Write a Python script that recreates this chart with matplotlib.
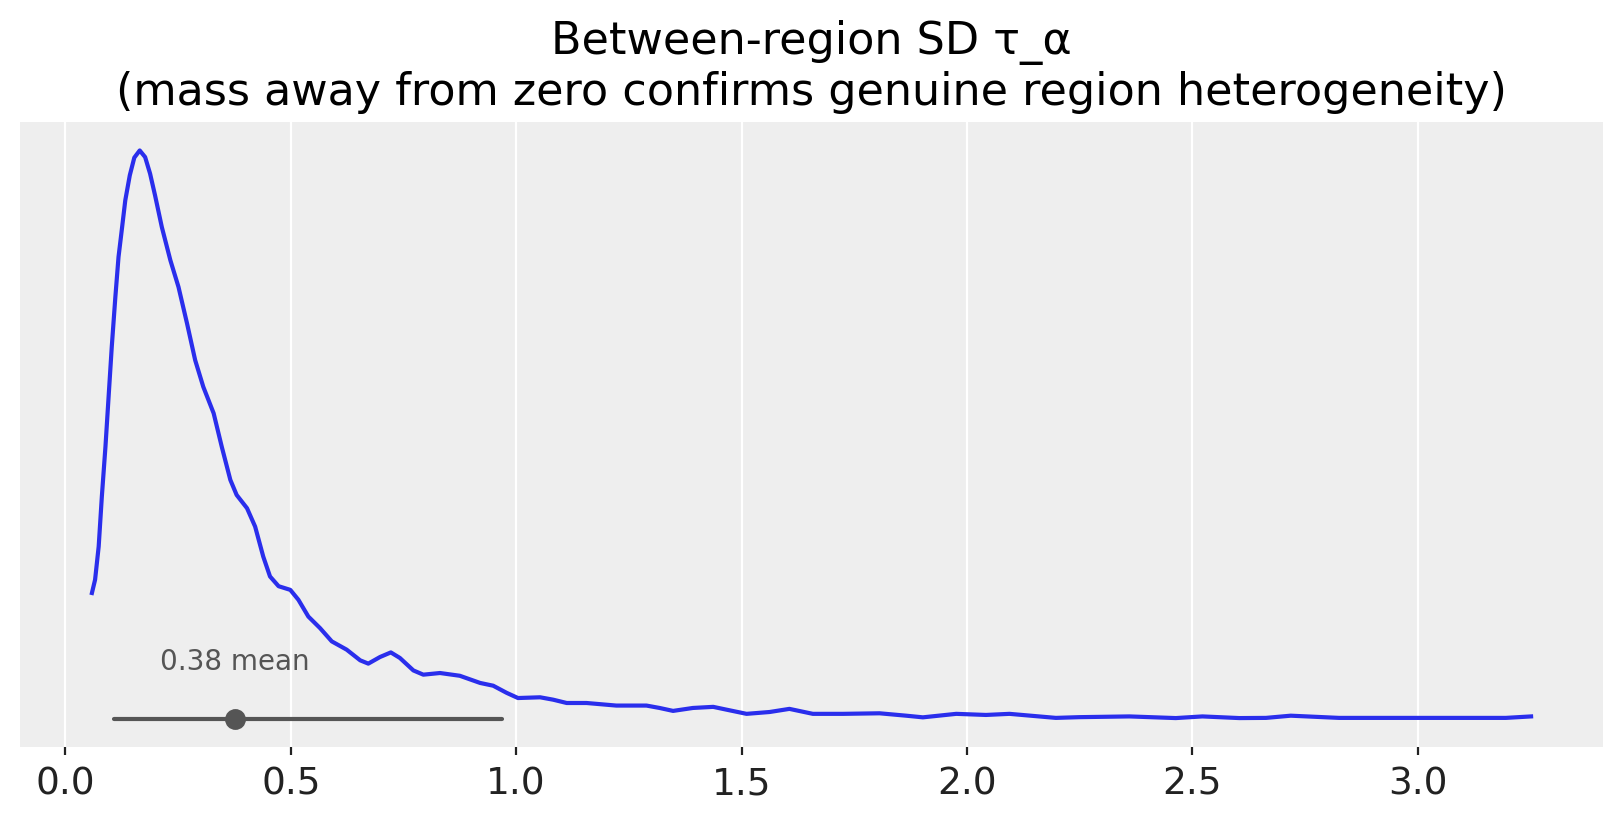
import matplotlib
matplotlib.use("Agg")
import matplotlib.pyplot as plt

# posterior density of tau_alpha
tau_x = [0.059, 0.066, 0.074, 0.081, 0.089, 0.096, 0.103, 0.111, 0.118, 0.126,
         0.133, 0.143, 0.153, 0.165, 0.177, 0.188, 0.199, 0.214, 0.233, 0.251,
         0.270, 0.288, 0.306, 0.329, 0.347, 0.366, 0.380, 0.403, 0.421, 0.439,
         0.454, 0.473, 0.499, 0.517, 0.539, 0.565, 0.591, 0.624, 0.654, 0.672,
         0.698, 0.722, 0.742, 0.772, 0.794, 0.831, 0.875, 0.920, 0.949, 0.979,
         1.004, 1.053, 1.082, 1.112, 1.156, 1.222, 1.289, 1.318, 1.348, 1.392,
         1.437, 1.466, 1.511, 1.562, 1.606, 1.658, 1.725, 1.806, 1.865, 1.902,
         1.976, 2.042, 2.094, 2.197, 2.249, 2.360, 2.463, 2.522, 2.604, 2.663,
         2.718, 2.825, 2.987, 3.135, 3.195, 3.251]
tau_density = [0.683, 0.755, 0.936, 1.207, 1.478, 1.750, 2.021, 2.293, 2.510, 2.673,
               2.818, 2.954, 3.050, 3.089, 3.053, 2.963, 2.845, 2.673, 2.492, 2.347,
               2.148, 1.949, 1.804, 1.660, 1.478, 1.298, 1.216, 1.144, 1.044, 0.881,
               0.773, 0.720, 0.700, 0.646, 0.555, 0.492, 0.420, 0.375, 0.317, 0.299,
               0.335, 0.360, 0.330, 0.262, 0.239, 0.248, 0.233, 0.194, 0.179, 0.140,
               0.112, 0.116, 0.103, 0.085, 0.085, 0.071, 0.071, 0.058, 0.042, 0.058,
               0.064, 0.049, 0.026, 0.036, 0.053, 0.026, 0.026, 0.029, 0.016, 0.007,
               0.026, 0.020, 0.026, 0.004, 0.008, 0.012, 0.003, 0.012, 0.003, 0.004,
               0.016, 0.004, 0.004, 0.004, 0.004, 0.012]

tau_mean = 0.377
hdi_low, hdi_high = 0.107, 0.969
xticks = [0.0, 0.5, 1.0, 1.5, 2.0, 2.5, 3.0]

fig = plt.figure(figsize=(8.115, 4.115), dpi=200)
ax = fig.add_axes([0.0123, 0.0923, 0.9754, 0.7594])
ax.set_facecolor("#eeeeee")
for s in ax.spines.values():
    s.set_visible(False)

ax.plot(tau_x, tau_density, color="#2a2eec", lw=1.5, solid_joinstyle="round")

peak = max(tau_density)
ax.plot([hdi_low, hdi_high], [0, 0], color="#555555", lw=1.5, solid_capstyle="round")
ax.plot([tau_mean], [0], "o", color="#555555", markersize=6.5)
ax.text(tau_mean, peak * 0.075, f"{tau_mean:.2f} mean", ha="center", va="bottom",
        fontsize=10, color="#555555")

ax.set_xticks(xticks)
ax.set_xticklabels([f"{t:.1f}" for t in xticks])
ax.set_yticks([])
ax.tick_params(axis="x", labelsize=13.5, colors="#222222", length=3, width=0.8, pad=4)
ax.grid(axis="x", color="white", lw=0.8)
ax.set_axisbelow(True)

ax.set_title("Between-region SD τ_α\n(mass away from zero confirms genuine region heterogeneity)",
             fontsize=16)

fig.savefig("out.png", dpi=200)
